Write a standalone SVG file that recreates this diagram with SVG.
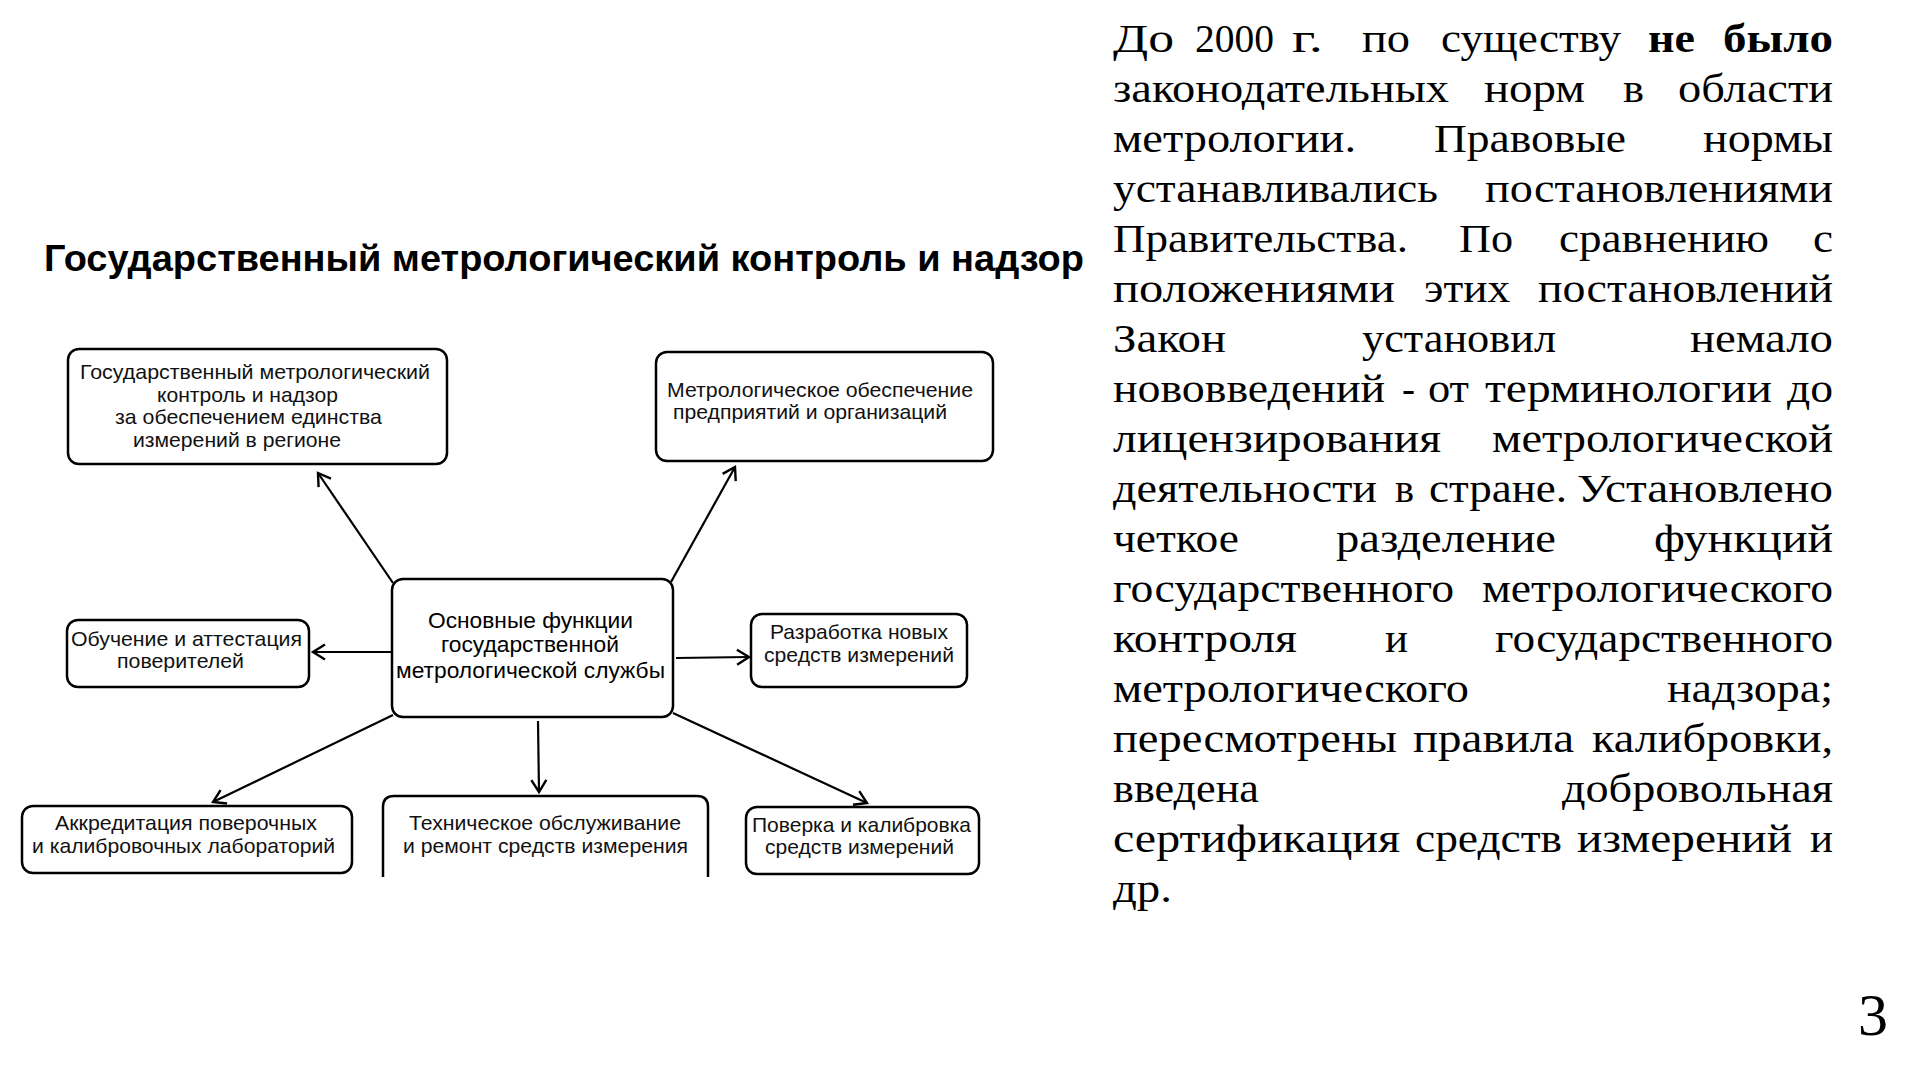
<svg xmlns="http://www.w3.org/2000/svg" width="1923" height="1085" viewBox="0 0 1923 1085">
<style>
.box{fill:#fff;stroke:#000;stroke-width:2.5}
.lbl{font-family:"Liberation Sans",Arial,sans-serif;font-size:21px;fill:#111}
.ctr{font-family:"Liberation Sans",Arial,sans-serif;font-size:22.5px;fill:#000}
.ttl{font-family:"Liberation Sans",Arial,sans-serif;font-size:37px;font-weight:bold;fill:#000}
.con{stroke:#000;stroke-width:2.2;fill:none;marker-end:url(#arr)}
.par{font-family:"Liberation Serif","Times New Roman",serif;font-size:40px;fill:#000}
.b{font-weight:bold}
</style>
<defs>
<marker id="arr" markerUnits="userSpaceOnUse" markerWidth="18" markerHeight="18" viewBox="0 0 18 18" refX="15" refY="9" orient="auto">
<path d="M3,1.5 L15,9 L3,16.5" fill="none" stroke="#000" stroke-width="2.4" stroke-linejoin="miter"/>
</marker>
</defs>
<rect width="1923" height="1085" fill="#fff"/>

<text id="title" class="ttl" x="44" y="271" textLength="1040" lengthAdjust="spacingAndGlyphs">Государственный метрологический контроль и надзор</text>

<g id="connectors">
<line class="con" x1="393" y1="583" x2="318" y2="473"/>
<line class="con" x1="671" y1="582" x2="735" y2="467"/>
<line class="con" x1="393" y1="652" x2="313" y2="652"/>
<line class="con" x1="676" y1="658" x2="749" y2="657"/>
<line class="con" x1="538" y1="721" x2="539" y2="792"/>
<line class="con" x1="393" y1="715" x2="213" y2="802"/>
<line class="con" x1="673" y1="713" x2="867" y2="803"/>
</g>

<g id="node-center">
<rect class="box" x="392" y="579" width="281" height="138" rx="11"/>
<text class="ctr" x="428" y="628" textLength="205" lengthAdjust="spacingAndGlyphs">Основные функции</text>
<text class="ctr" x="441" y="652" textLength="178" lengthAdjust="spacingAndGlyphs">государственной</text>
<text class="ctr" x="396" y="678" textLength="269" lengthAdjust="spacingAndGlyphs">метрологической службы</text>
</g>

<g id="node-control">
<rect class="box" x="68" y="349" width="379" height="115" rx="11"/>
<text class="lbl" x="80" y="379" textLength="350" lengthAdjust="spacingAndGlyphs">Государственный метрологический</text>
<text class="lbl" x="157" y="402" textLength="181" lengthAdjust="spacingAndGlyphs">контроль и надзор</text>
<text class="lbl" x="115" y="424" textLength="267" lengthAdjust="spacingAndGlyphs">за обеспечением единства</text>
<text class="lbl" x="133" y="447" textLength="208" lengthAdjust="spacingAndGlyphs">измерений в регионе</text>
</g>

<g id="node-support">
<rect class="box" x="656" y="352" width="337" height="109" rx="11"/>
<text class="lbl" x="667" y="397" textLength="306" lengthAdjust="spacingAndGlyphs">Метрологическое обеспечение</text>
<text class="lbl" x="673" y="419" textLength="274" lengthAdjust="spacingAndGlyphs">предприятий и организаций</text>
</g>

<g id="node-training">
<rect class="box" x="67" y="620" width="242" height="67" rx="11"/>
<text class="lbl" x="71" y="646" textLength="231" lengthAdjust="spacingAndGlyphs">Обучение и аттестация</text>
<text class="lbl" x="117" y="668" textLength="127" lengthAdjust="spacingAndGlyphs">поверителей</text>
</g>

<g id="node-development">
<rect class="box" x="751" y="614" width="216" height="73" rx="11"/>
<text class="lbl" x="770" y="639" textLength="178" lengthAdjust="spacingAndGlyphs">Разработка новых</text>
<text class="lbl" x="764" y="662" textLength="190" lengthAdjust="spacingAndGlyphs">средств измерений</text>
</g>

<g id="node-accreditation">
<rect class="box" x="22" y="806" width="330" height="67" rx="11"/>
<text class="lbl" x="55" y="830" textLength="262" lengthAdjust="spacingAndGlyphs">Аккредитация поверочных</text>
<text class="lbl" x="32" y="853" textLength="303" lengthAdjust="spacingAndGlyphs">и калибровочных лабораторий</text>
</g>

<g id="node-maintenance">
<path class="box" d="M383,877 V807 Q383,796 394,796 H697 Q708,796 708,807 V877" fill="#fff"/>
<text class="lbl" x="409" y="830" textLength="272" lengthAdjust="spacingAndGlyphs">Техническое обслуживание</text>
<text class="lbl" x="403" y="853" textLength="285" lengthAdjust="spacingAndGlyphs">и ремонт средств измерения</text>
</g>

<g id="node-verification">
<rect class="box" x="746" y="807" width="233" height="67" rx="11"/>
<text class="lbl" x="752" y="832" textLength="219" lengthAdjust="spacingAndGlyphs">Поверка и калибровка</text>
<text class="lbl" x="765" y="854" textLength="189" lengthAdjust="spacingAndGlyphs">средств измерений</text>
</g>

<g id="paragraph" class="par">
<text y="52"><tspan x="1113" textLength="61" lengthAdjust="spacingAndGlyphs">До</tspan> <tspan x="1195" textLength="79" lengthAdjust="spacingAndGlyphs">2000</tspan> <tspan x="1292" textLength="31" lengthAdjust="spacingAndGlyphs">г.</tspan> <tspan x="1362" textLength="48" lengthAdjust="spacingAndGlyphs">по</tspan> <tspan x="1441" textLength="180" lengthAdjust="spacingAndGlyphs">существу</tspan> <tspan class="b" x="1648" textLength="47" lengthAdjust="spacingAndGlyphs">не</tspan> <tspan class="b" x="1723" textLength="110" lengthAdjust="spacingAndGlyphs">было</tspan></text>
<text y="102"><tspan x="1113" textLength="336" lengthAdjust="spacingAndGlyphs">законодательных</tspan> <tspan x="1484" textLength="101" lengthAdjust="spacingAndGlyphs">норм</tspan> <tspan x="1623" textLength="21" lengthAdjust="spacingAndGlyphs">в</tspan> <tspan x="1678" textLength="155" lengthAdjust="spacingAndGlyphs">области</tspan></text>
<text y="152"><tspan x="1113" textLength="243" lengthAdjust="spacingAndGlyphs">метрологии.</tspan> <tspan x="1434" textLength="192" lengthAdjust="spacingAndGlyphs">Правовые</tspan> <tspan x="1703" textLength="130" lengthAdjust="spacingAndGlyphs">нормы</tspan></text>
<text y="202"><tspan x="1113" textLength="325" lengthAdjust="spacingAndGlyphs">устанавливались</tspan> <tspan x="1485" textLength="348" lengthAdjust="spacingAndGlyphs">постановлениями</tspan></text>
<text y="252"><tspan x="1113" textLength="295" lengthAdjust="spacingAndGlyphs">Правительства.</tspan> <tspan x="1459" textLength="54" lengthAdjust="spacingAndGlyphs">По</tspan> <tspan x="1559" textLength="210" lengthAdjust="spacingAndGlyphs">сравнению</tspan> <tspan x="1813" textLength="20" lengthAdjust="spacingAndGlyphs">с</tspan></text>
<text y="302"><tspan x="1113" textLength="282" lengthAdjust="spacingAndGlyphs">положениями</tspan> <tspan x="1424" textLength="86" lengthAdjust="spacingAndGlyphs">этих</tspan> <tspan x="1538" textLength="295" lengthAdjust="spacingAndGlyphs">постановлений</tspan></text>
<text y="352"><tspan x="1113" textLength="113" lengthAdjust="spacingAndGlyphs">Закон</tspan> <tspan x="1362" textLength="194" lengthAdjust="spacingAndGlyphs">установил</tspan> <tspan x="1690" textLength="143" lengthAdjust="spacingAndGlyphs">немало</tspan></text>
<text y="402"><tspan x="1113" textLength="272" lengthAdjust="spacingAndGlyphs">нововведений</tspan> <tspan x="1402" textLength="13" lengthAdjust="spacingAndGlyphs">-</tspan> <tspan x="1428" textLength="41" lengthAdjust="spacingAndGlyphs">от</tspan> <tspan x="1485" textLength="287" lengthAdjust="spacingAndGlyphs">терминологии</tspan> <tspan x="1787" textLength="46" lengthAdjust="spacingAndGlyphs">до</tspan></text>
<text y="452"><tspan x="1113" textLength="328" lengthAdjust="spacingAndGlyphs">лицензирования</tspan> <tspan x="1492" textLength="341" lengthAdjust="spacingAndGlyphs">метрологической</tspan></text>
<text y="502"><tspan x="1113" textLength="264" lengthAdjust="spacingAndGlyphs">деятельности</tspan> <tspan x="1395" textLength="19" lengthAdjust="spacingAndGlyphs">в</tspan> <tspan x="1429" textLength="138" lengthAdjust="spacingAndGlyphs">стране.</tspan> <tspan x="1577" textLength="256" lengthAdjust="spacingAndGlyphs">Установлено</tspan></text>
<text y="552"><tspan x="1113" textLength="126" lengthAdjust="spacingAndGlyphs">четкое</tspan> <tspan x="1336" textLength="220" lengthAdjust="spacingAndGlyphs">разделение</tspan> <tspan x="1654" textLength="179" lengthAdjust="spacingAndGlyphs">функций</tspan></text>
<text y="602"><tspan x="1113" textLength="341" lengthAdjust="spacingAndGlyphs">государственного</tspan> <tspan x="1482" textLength="351" lengthAdjust="spacingAndGlyphs">метрологического</tspan></text>
<text y="652"><tspan x="1113" textLength="184" lengthAdjust="spacingAndGlyphs">контроля</tspan> <tspan x="1385" textLength="23" lengthAdjust="spacingAndGlyphs">и</tspan> <tspan x="1495" textLength="338" lengthAdjust="spacingAndGlyphs">государственного</tspan></text>
<text y="702"><tspan x="1113" textLength="356" lengthAdjust="spacingAndGlyphs">метрологического</tspan> <tspan x="1667" textLength="166" lengthAdjust="spacingAndGlyphs">надзора;</tspan></text>
<text y="752"><tspan x="1113" textLength="284" lengthAdjust="spacingAndGlyphs">пересмотрены</tspan> <tspan x="1413" textLength="161" lengthAdjust="spacingAndGlyphs">правила</tspan> <tspan x="1592" textLength="241" lengthAdjust="spacingAndGlyphs">калибровки,</tspan></text>
<text y="802"><tspan x="1113" textLength="146" lengthAdjust="spacingAndGlyphs">введена</tspan> <tspan x="1562" textLength="271" lengthAdjust="spacingAndGlyphs">добровольная</tspan></text>
<text y="852"><tspan x="1113" textLength="287" lengthAdjust="spacingAndGlyphs">сертификация</tspan> <tspan x="1415" textLength="147" lengthAdjust="spacingAndGlyphs">средств</tspan> <tspan x="1577" textLength="215" lengthAdjust="spacingAndGlyphs">измерений</tspan> <tspan x="1810" textLength="23" lengthAdjust="spacingAndGlyphs">и</tspan></text>
<text y="902"><tspan x="1113" textLength="59" lengthAdjust="spacingAndGlyphs">др.</tspan></text>
</g>

<text id="page-number" x="1858" y="1035" font-family="Liberation Serif,'Times New Roman',serif" font-size="60">3</text>
</svg>
